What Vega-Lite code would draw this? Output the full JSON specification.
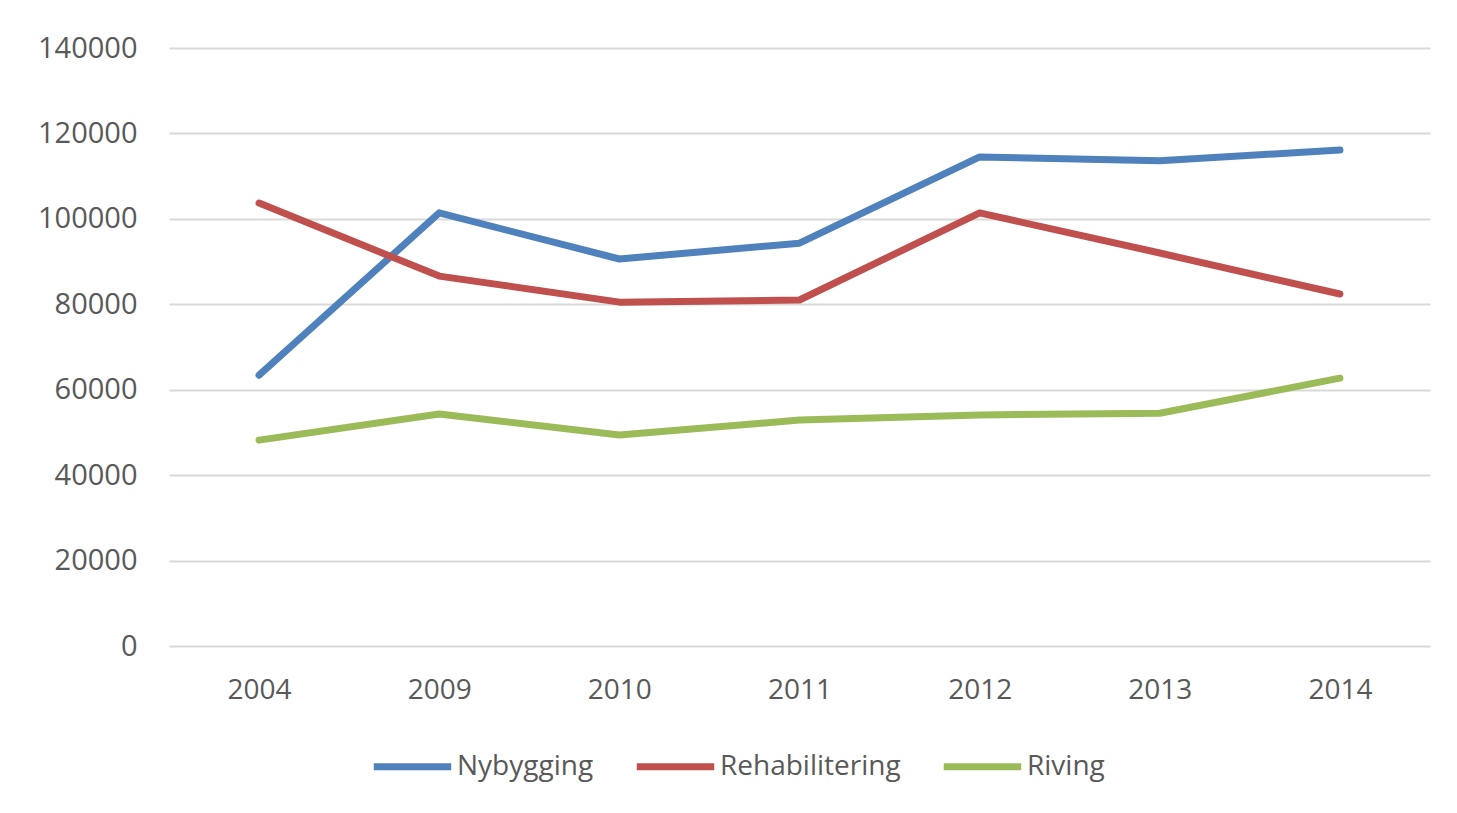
{
  "$schema": "https://vega.github.io/schema/vega-lite/v6.json",
  "autosize": {"type": "none"},
  "padding": {"left": 169, "top": 48, "right": 27, "bottom": 167},
  "width": 1261,
  "height": 598,
  "background": "white",
  "data": {"values": [
    {"year": "2004", "series": "Nybygging", "value": 63400},
    {"year": "2009", "series": "Nybygging", "value": 101400},
    {"year": "2010", "series": "Nybygging", "value": 90600},
    {"year": "2011", "series": "Nybygging", "value": 94300},
    {"year": "2012", "series": "Nybygging", "value": 114500},
    {"year": "2013", "series": "Nybygging", "value": 113600},
    {"year": "2014", "series": "Nybygging", "value": 116100},
    {"year": "2004", "series": "Rehabilitering", "value": 103700},
    {"year": "2009", "series": "Rehabilitering", "value": 86600},
    {"year": "2010", "series": "Rehabilitering", "value": 80500},
    {"year": "2011", "series": "Rehabilitering", "value": 81000},
    {"year": "2012", "series": "Rehabilitering", "value": 101400},
    {"year": "2013", "series": "Rehabilitering", "value": 92000},
    {"year": "2014", "series": "Rehabilitering", "value": 82400},
    {"year": "2004", "series": "Riving", "value": 48200},
    {"year": "2009", "series": "Riving", "value": 54300},
    {"year": "2010", "series": "Riving", "value": 49400},
    {"year": "2011", "series": "Riving", "value": 52900},
    {"year": "2012", "series": "Riving", "value": 54100},
    {"year": "2013", "series": "Riving", "value": 54500},
    {"year": "2014", "series": "Riving", "value": 62700}
  ]},
  "mark": {"type": "line", "strokeWidth": 7, "strokeCap": "round", "strokeJoin": "round"},
  "encoding": {
    "x": {
      "field": "year", "type": "ordinal",
      "scale": {"type": "point", "padding": 0.5},
      "axis": {"title": null, "labelAngle": 0, "ticks": false, "domain": false, "grid": false, "labelPadding": 30, "labelFontSize": 28, "labelColor": "#595959", "labelFont": "Open Sans"}
    },
    "y": {
      "field": "value", "type": "quantitative",
      "scale": {"domain": [0, 140000], "nice": false},
      "axis": {"title": null, "values": [0, 20000, 40000, 60000, 80000, 100000, 120000, 140000], "format": "d", "ticks": false, "domain": false, "gridColor": "#d9d9d9", "gridWidth": 2, "labelPadding": 32, "labelFontSize": 29, "labelColor": "#595959", "labelFont": "Open Sans"}
    },
    "color": {
      "field": "series", "type": "nominal",
      "scale": {"domain": ["Nybygging", "Rehabilitering", "Riving"], "range": ["#4f81bd", "#c0504d", "#9bbb59"]},
      "legend": {
        "title": null, "orient": "none", "legendX": 201, "legendY": 676, "direction": "horizontal",
        "symbolType": "stroke", "symbolSize": 6000, "symbolStrokeWidth": 7,
        "labelFontSize": 28, "labelColor": "#595959", "labelFont": "Open Sans", "labelLimit": 400,
        "labelOffset": 2, "columnPadding": 28
      }
    }
  },
  "config": {"view": {"stroke": null}}
}
